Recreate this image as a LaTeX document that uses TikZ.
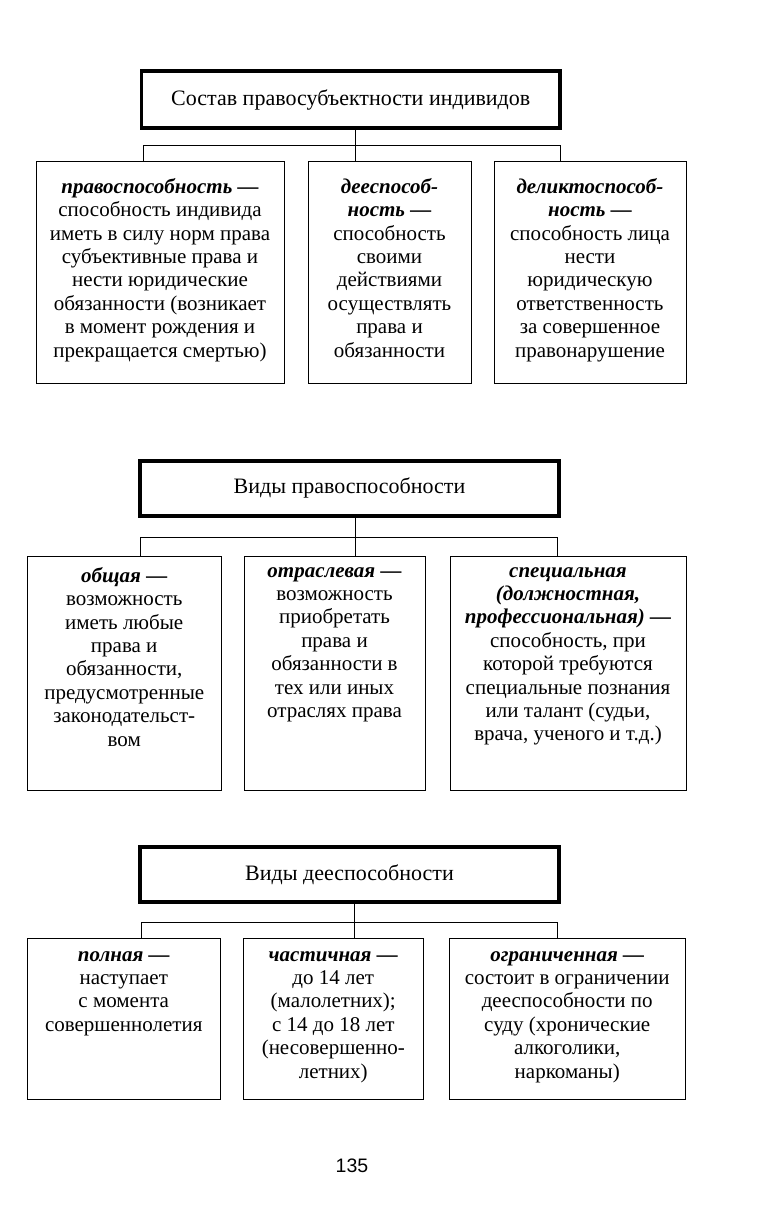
\documentclass[tikz,border=0pt]{standalone}
\usepackage{fontspec}
\setmainfont{Liberation Serif}
\newfontfamily\pnfont{Liberation Sans}
\newcommand\hdr[1]{\textbf{\textit{#1}}}
\begin{document}
\begin{tikzpicture}[x=1pt,y=-1pt,
  titlebox/.style={draw,line width=3.2pt,inner sep=0pt,font=\fontsize{22}{24}\selectfont},
  cell/.style={draw,line width=0.9pt,inner sep=0pt},
  txt/.style={align=center,inner sep=0pt,anchor=north,font=\fontsize{21}{23.4}\selectfont},
  link/.style={line width=0.9pt}]
\useasboundingbox[fill=white] (0,0) rectangle (780,1226);

% ---------- Section 1 ----------
\node[titlebox,minimum width=418.5pt,minimum height=57pt] (t1) at (350.75,99.5) {Состав правосубъектности индивидов};
\node[cell,minimum width=248pt,minimum height=222pt] (a1) at (160,272) {};
\node[cell,minimum width=163pt,minimum height=222pt] (b1) at (389.5,272) {};
\node[cell,minimum width=192pt,minimum height=222pt] (c1) at (590,272) {};
\coordinate (L1) at (143.5,145);
\coordinate (R1) at (560,145);
\coordinate (J1) at (355,145);
\draw[link] (L1 |- a1.north) -- (L1) -- (R1) -- (R1 |- c1.north);
\draw[link] (J1 |- t1.south) -- (J1 |- b1.north);
\node[txt] (ta1) at (160,178) {\hdr{правоспособность —}\\способность индивида\\иметь в силу норм права\\субъективные права и\\нести юридические\\обязанности (возникает\\в момент рождения и\\прекращается смертью)};
\node[txt] (tb1) at (389.5,178) {\hdr{дееспособ-}\\\hdr{ность —}\\способность\\своими\\действиями\\осуществлять\\права и\\обязанности};
\node[txt] (tc1) at (590,178) {\hdr{деликтоспособ-}\\\hdr{ность —}\\способность лица\\нести\\юридическую\\ответственность\\за совершенное\\правонарушение};

% ---------- Section 2 ----------
\node[titlebox,minimum width=419pt,minimum height=55pt] (t2) at (349.5,488.5) {\raisebox{6pt}{Виды правоспособности}};
\node[cell,minimum width=194.5pt,minimum height=234pt] (a2) at (124.25,673) {};
\node[cell,minimum width=181pt,minimum height=234pt] (b2) at (334.5,673) {};
\node[cell,minimum width=236pt,minimum height=234pt] (c2) at (568,673) {};
\coordinate (L2) at (140,537);
\coordinate (R2) at (557.5,537);
\coordinate (J2) at (355,537);
\draw[link] (L2 |- a2.north) -- (L2) -- (R2) -- (R2 |- c2.north);
\draw[link] (J2 |- t2.south) -- (J2 |- b2.north);
\node[txt] (ta2) at (124.25,567) {\hdr{общая —}\\возможность\\иметь любые\\права и\\обязанности,\\предусмотренные\\законодательст-\\вом};
\node[txt] (tb2) at (334.5,567) {\hdr{отраслевая —}\\возможность\\приобретать\\права и\\обязанности в\\тех или иных\\отраслях права};
\node[txt] (tc2) at (568,567) {\hdr{специальная}\\\hdr{(должностная,}\\\hdr{профессиональная) —}\\способность, при\\которой требуются\\специальные познания\\или талант (судьи,\\врача, ученого и т.д.)};

% ---------- Section 3 ----------
\node[titlebox,minimum width=419pt,minimum height=55pt] (t3) at (349.5,874.5) {\raisebox{3.5pt}{Виды дееспособности}};
\node[cell,minimum width=193.5pt,minimum height=161pt] (a3) at (123.75,1018.5) {};
\node[cell,minimum width=179.5pt,minimum height=161pt] (b3) at (333.25,1018.5) {};
\node[cell,minimum width=235.5pt,minimum height=161pt] (c3) at (567.25,1018.5) {};
\coordinate (L3) at (141,922);
\coordinate (R3) at (557,922);
\coordinate (J3) at (354,922);
\draw[link] (L3 |- a3.north) -- (L3) -- (R3) -- (R3 |- c3.north);
\draw[link] (J3 |- t3.south) -- (J3 |- b3.north);
\node[txt] (ta3) at (123.75,951) {\hdr{полная —}\\наступает\\с момента\\совершеннолетия};
\node[txt] (tb3) at (333.25,951) {\hdr{частичная —}\\до 14 лет\\(малолетних);\\с 14 до 18 лет\\(несовершенно-\\летних)};
\node[txt] (tc3) at (567.25,951) {\hdr{ограниченная —}\\состоит в ограничении\\дееспособности по\\суду (хронические\\алкоголики,\\наркоманы)};

% page number
\node[font=\pnfont\fontsize{19.5}{21}\selectfont,inner sep=0pt] (pn) at (352,1166) {135};
\end{tikzpicture}
\end{document}
